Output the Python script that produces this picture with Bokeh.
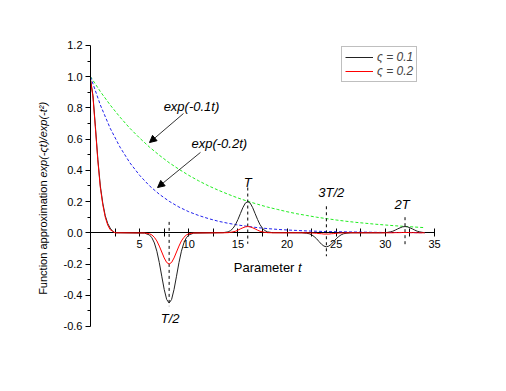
from bokeh.plotting import figure
from bokeh.models import (Range1d, FixedTicker, PrintfTickFormatter, Label, Arrow, NormalHead)
from bokeh.embed import file_html
from bokeh.resources import INLINE

# ---------------- data ----------------
t_curve = [0, 0.25, 0.5, 0.75, 1.0, 1.25, 1.5, 1.75, 2.0, 2.25, 2.5, 3.0,
           5.5, 6.0, 6.25, 6.5, 6.75, 7.0, 7.25, 7.5, 7.75, 8.0, 8.25, 8.5, 8.75, 9.0, 9.25, 9.5, 9.75, 10.0, 10.5,
           13.5, 14.0, 14.25, 14.5, 14.75, 15.0, 15.25, 15.5, 15.75, 16.0, 16.25, 16.5, 16.75, 17.0, 17.25, 17.5, 17.75, 18.0, 18.5,
           21.5, 22.0, 22.25, 22.5, 22.75, 23.0, 23.25, 23.5, 23.75, 24.0, 24.25, 24.5, 24.75, 25.0, 25.25, 25.5, 25.75, 26.0, 26.5,
           29.5, 30.0, 30.25, 30.5, 30.75, 31.0, 31.25, 31.5, 31.75, 32.0, 32.25, 32.5, 32.75, 33.0, 33.25, 33.5, 33.75, 34.0]

zeta01 = [0.98, 0.88, 0.68, 0.47, 0.30, 0.19, 0.11, 0.06, 0.03, 0.01, 0.0, 0.0,
          -0.002, -0.014, -0.032, -0.065, -0.118, -0.191, -0.278, -0.363, -0.427, -0.45,
          -0.427, -0.363, -0.278, -0.191, -0.118, -0.065, -0.032, -0.014, -0.002,
          0.001, 0.006, 0.014, 0.029, 0.052, 0.085, 0.123, 0.161, 0.19, 0.20,
          0.19, 0.161, 0.123, 0.085, 0.052, 0.029, 0.014, 0.006, 0.001,
          0.0, -0.003, -0.006, -0.013, -0.024, -0.038, -0.056, -0.073, -0.085, -0.09,
          -0.085, -0.073, -0.056, -0.038, -0.024, -0.013, -0.006, -0.003, 0.0,
          0.0, 0.001, 0.003, 0.006, 0.01, 0.017, 0.025, 0.032, 0.038, 0.04,
          0.038, 0.032, 0.025, 0.017, 0.01, 0.006, 0.003, 0.001]

zeta02 = [0.98, 0.87, 0.67, 0.46, 0.29, 0.18, 0.10, 0.05, 0.02, 0.01, 0.0, 0.0,
          -0.001, -0.006, -0.014, -0.029, -0.052, -0.085, -0.123, -0.161, -0.19, -0.20,
          -0.19, -0.161, -0.123, -0.085, -0.052, -0.029, -0.014, -0.006, -0.001,
          0.0, 0.001, 0.003, 0.006, 0.01, 0.017, 0.025, 0.032, 0.038, 0.04,
          0.038, 0.032, 0.025, 0.017, 0.01, 0.006, 0.003, 0.001, 0.0,
          0.0, 0.0, -0.001, -0.001, -0.002, -0.003, -0.005, -0.006, -0.008, -0.008,
          -0.008, -0.006, -0.005, -0.003, -0.002, -0.001, -0.001, 0.0, 0.0,
          0.0, 0.0, 0.0, 0.0, 0.0, 0.001, 0.001, 0.001, 0.002, 0.002,
          0.002, 0.001, 0.001, 0.001, 0.0, 0.0, 0.0, 0.0]

t_env = [0, 1, 2, 3, 4, 5, 6, 7, 8, 9, 10, 11, 12, 13, 14, 15, 16, 17, 18, 19, 20,
         21, 22, 23, 24, 25, 26, 27, 28, 29, 30, 31, 32, 33, 34]
env01 = [1.0, 0.905, 0.819, 0.741, 0.670, 0.607, 0.549, 0.497, 0.449, 0.407, 0.368,
         0.333, 0.301, 0.273, 0.247, 0.223, 0.202, 0.183, 0.165, 0.150, 0.135,
         0.122, 0.111, 0.100, 0.091, 0.082, 0.074, 0.067, 0.061, 0.055, 0.050,
         0.045, 0.041, 0.037, 0.033]
env02 = [1.0, 0.819, 0.670, 0.549, 0.449, 0.368, 0.301, 0.247, 0.202, 0.165, 0.135,
         0.111, 0.091, 0.074, 0.061, 0.050, 0.041, 0.033, 0.027, 0.022, 0.018,
         0.015, 0.012, 0.010, 0.008, 0.007, 0.006, 0.005, 0.004, 0.003, 0.002,
         0.002, 0.002, 0.001, 0.001]

x_ticks = [5, 10, 15, 20, 25, 30, 35]
x_minor = [2.5, 7.5, 12.5, 17.5, 22.5, 27.5, 32.5]
y_ticks = [-0.6, -0.4, -0.2, 0.0, 0.2, 0.4, 0.6, 0.8, 1.0, 1.2]
y_minor = [-0.5, -0.3, -0.1, 0.1, 0.3, 0.5, 0.7, 0.9, 1.1]

marker_t = [8, 16, 24, 32]
marker_text = ["T/2", "T", "3T/2", "2T"]
marker_y0 = [0.07, 0.29, 0.17, 0.10]
marker_y1 = [-0.47, -0.07, -0.15, -0.08]

FONT = "Liberation Sans"

p = figure(width=490, height=375, output_backend="svg", toolbar_location=None,
           x_range=Range1d(-9.157, 40.697), y_range=Range1d(-0.914, 1.488),
           min_border_left=0, min_border_right=0, min_border_top=0, min_border_bottom=0)
p.outline_line_color = None
p.grid.visible = False
p.background_fill_color = "white"
p.border_fill_color = "white"

# envelopes
p.line(t_env, env01, line_color="#22ee22", line_width=1, line_dash="3 2")
p.line(t_env, env02, line_color="#2222ee", line_width=1, line_dash="3 2")

# marker dashed lines
p.segment(x0=marker_t, y0=marker_y0, x1=marker_t, y1=marker_y1,
          line_color="black", line_width=1, line_dash="3 3")

p.line(t_curve, zeta01, line_color="#222222", line_width=1, legend_label="\u03c2 = 0.1")
p.line(t_curve, zeta02, line_color="#ff0000", line_width=1, legend_label="\u03c2 = 0.2")

# axes (drawn at fixed locations, crossing at the origin)
xa = p.xaxis[0]
xa.fixed_location = 0
xa.bounds = (0, 35)
xa.ticker = FixedTicker(ticks=x_ticks, minor_ticks=x_minor)
xa.major_tick_in = 4
xa.major_tick_out = 4
xa.minor_tick_in = 4
xa.minor_tick_out = 4
xa.major_label_standoff = 3
xa.major_label_text_font = FONT
xa.major_label_text_font_size = "11px"
xa.major_label_text_color = "black"
xa.axis_line_color = "black"
xa.level = "underlay"

ya = p.yaxis[0]
ya.fixed_location = 0
ya.bounds = (-0.6, 1.2)
ya.ticker = FixedTicker(ticks=y_ticks, minor_ticks=y_minor)
ya.formatter = PrintfTickFormatter(format="%.1f")
ya.major_tick_in = 0
ya.major_tick_out = 5
ya.minor_tick_in = 0
ya.minor_tick_out = 3
ya.major_label_standoff = 3
ya.major_label_text_font = FONT
ya.major_label_text_font_size = "11px"
ya.major_label_text_color = "black"
ya.axis_line_color = "black"

# axis titles as labels (mixed upright / italic)
p.add_layout(Label(x=-4.8, y=0.335, text="Function approximation", angle=1.5708,
                   text_align="right", text_baseline="middle", text_font=FONT,
                   text_font_size="11px", text_color="black"))
p.add_layout(Label(x=-4.8, y=0.354, text="exp(-\u03c2t)/exp(-t\u00b2)", angle=1.5708,
                   text_align="left", text_baseline="middle", text_font=FONT,
                   text_font_style="italic", text_font_size="11px", text_color="black"))
p.add_layout(Label(x=20.75, y=-0.22, text="Parameter", text_align="right",
                   text_baseline="middle", text_font=FONT, text_font_size="13px",
                   text_color="black"))
p.add_layout(Label(x=21.1, y=-0.22, text="t", text_align="left",
                   text_baseline="middle", text_font=FONT, text_font_style="italic",
                   text_font_size="13px", text_color="black"))

# marker labels
marker_pos = [(8.1, -0.55), (16.0, 0.32), (24.5, 0.257), (31.7, 0.18)]
for txt, (mx, my) in zip(marker_text, marker_pos):
    p.add_layout(Label(x=mx, y=my, text=txt, text_align="center", text_baseline="middle",
                       text_font=FONT, text_font_style="italic", text_font_size="13px",
                       text_color="black"))

# arrow annotations
p.add_layout(Label(x=10.27, y=0.81, text="exp(-0.1t)", text_align="center",
                   text_baseline="middle", text_font=FONT, text_font_style="italic",
                   text_font_size="13px", text_color="black"))
p.add_layout(Label(x=13.1, y=0.572, text="exp(-0.2t)", text_align="center",
                   text_baseline="middle", text_font=FONT, text_font_style="italic",
                   text_font_size="13px", text_color="black"))
p.add_layout(Arrow(x_start=9.46, y_start=0.764, x_end=6.0, y_end=0.578,
                   line_color="#333333", line_width=1,
                   end=NormalHead(size=7, fill_color="black", line_color="black")))
p.add_layout(Arrow(x_start=11.19, y_start=0.515, x_end=6.82, y_end=0.29,
                   line_color="#333333", line_width=1,
                   end=NormalHead(size=7, fill_color="black", line_color="black")))

# legend
lg = p.legend[0]
lg.location = (341, 293)
lg.margin = 0
lg.padding = 3
lg.spacing = 0
lg.glyph_width = 28
lg.glyph_height = 14
lg.label_height = 14
lg.label_standoff = 4
lg.label_text_font = FONT
lg.label_text_font_style = "italic"
lg.label_text_font_size = "12px"
lg.border_line_color = "#808080"
lg.border_line_width = 1
lg.background_fill_alpha = 1.0

open("out.html", "w").write(file_html(p, INLINE))
